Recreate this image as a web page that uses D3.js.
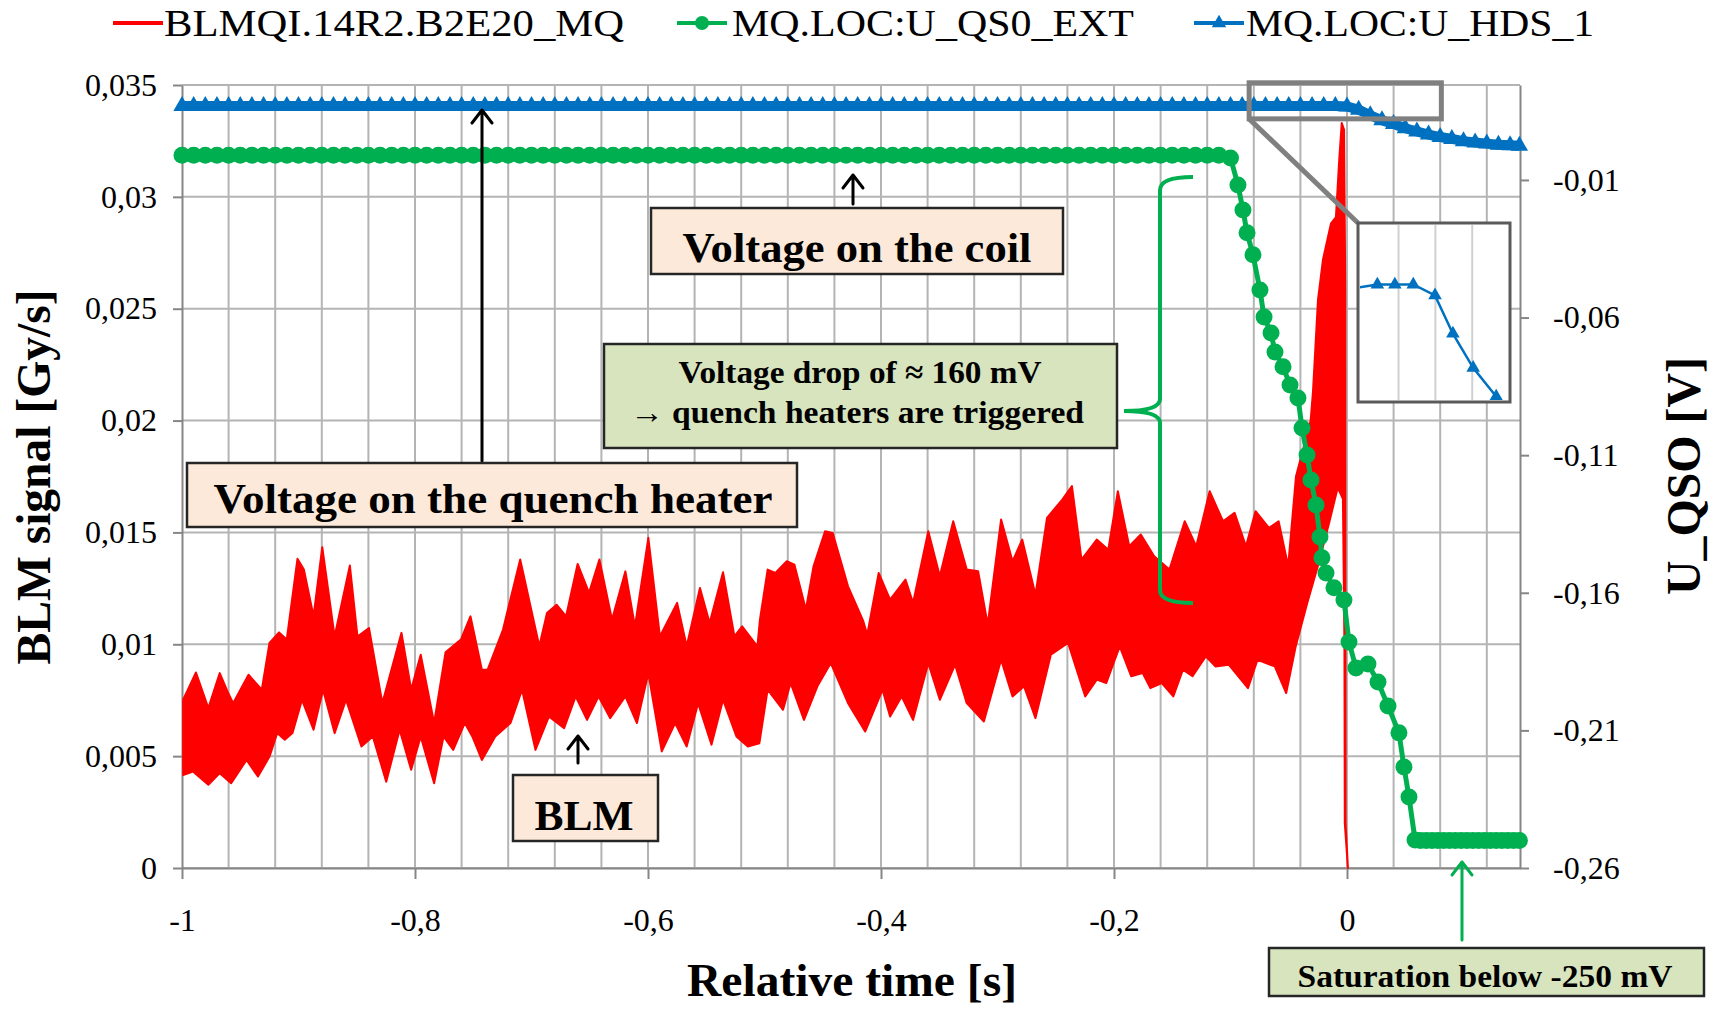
<!DOCTYPE html>
<html><head><meta charset="utf-8">
<script src="https://cdn.jsdelivr.net/npm/d3@7"></script>
<style>
body{margin:0;background:#fff;}
svg{display:block;font-family:"Liberation Serif","Times New Roman",serif;}
</style>
</head><body>
<svg id="chart" width="1719" height="1009"></svg>
<script>
// ---------------- DATA ----------------
const seriesNames = ["BLMQI.14R2.B2E20_MQ", "MQ.LOC:U_QS0_EXT", "MQ.LOC:U_HDS_1"];
const xTicks = [-1, -0.8, -0.6, -0.4, -0.2, 0];
const xTickLabels = ["-1", "-0,8", "-0,6", "-0,4", "-0,2", "0"];
const xGrid = [-0.96,-0.92,-0.88,-0.84,-0.8,-0.76,-0.72,-0.68,-0.64,-0.6,-0.56,-0.52,-0.48,-0.44,-0.4,-0.36,-0.32,-0.28,-0.24,-0.2,-0.16,-0.12,-0.08,-0.04,0,0.04,0.08,0.12];
const yLeftTicks = [0, 0.005, 0.01, 0.015, 0.02, 0.025, 0.03, 0.035];
const yLeftLabels = ["0", "0,005", "0,01", "0,015", "0,02", "0,025", "0,03", "0,035"];
const yRightTicks = [-0.26, -0.21, -0.16, -0.11, -0.06, -0.01];
const yRightLabels = ["-0,26", "-0,21", "-0,16", "-0,11", "-0,06", "-0,01"];

// BLM signal: upper and lower envelope of the dense noisy trace [time s, Gy/s]
const blmUpper = [[-0.999,0.00752],[-0.988,0.00874],[-0.9774,0.00715],[-0.9676,0.00871],[-0.961,0.00789],[-0.9561,0.00737],[-0.9429,0.00864],[-0.9315,0.00797],[-0.9249,0.01006],[-0.9167,0.01053],[-0.9101,0.01021],[-0.9009,0.01382],[-0.8954,0.01334],[-0.8871,0.01125],[-0.8796,0.01434],[-0.869,0.01035],[-0.8559,0.01352],[-0.8494,0.01035],[-0.8395,0.01073],[-0.828,0.00737],[-0.8116,0.01051],[-0.8033,0.00797],[-0.7951,0.00953],[-0.7836,0.00648],[-0.7738,0.00964],[-0.7606,0.01021],[-0.7524,0.01125],[-0.7426,0.00886],[-0.7377,0.00886],[-0.7245,0.01065],[-0.7097,0.01379],[-0.6933,0.00991],[-0.6867,0.0114],[-0.6785,0.01177],[-0.6703,0.01125],[-0.6604,0.01359],[-0.6506,0.0123],[-0.6417,0.01379],[-0.6309,0.0111],[-0.6194,0.01326],[-0.6112,0.0108],[-0.5997,0.01476],[-0.5898,0.01035],[-0.575,0.01185],[-0.5668,0.00991],[-0.5554,0.01252],[-0.5471,0.01095],[-0.5356,0.01322],[-0.5258,0.01035],[-0.5192,0.0108],[-0.5061,0.00991],[-0.5039,0.0111],[-0.4973,0.01334],[-0.4907,0.01319],[-0.4809,0.01371],[-0.4743,0.01356],[-0.4645,0.01155],[-0.4579,0.01349],[-0.448,0.01505],[-0.4415,0.01498],[-0.4283,0.01259],[-0.4152,0.01103],[-0.4118,0.01043],[-0.402,0.01319],[-0.3922,0.012],[-0.379,0.01289],[-0.3725,0.01185],[-0.3594,0.01505],[-0.3495,0.01304],[-0.338,0.0155],[-0.3264,0.01334],[-0.3166,0.01326],[-0.3084,0.01088],[-0.2969,0.01558],[-0.2871,0.01371],[-0.2788,0.01468],[-0.2674,0.01222],[-0.2575,0.01565],[-0.2444,0.01647],[-0.2361,0.01707],[-0.2279,0.01379],[-0.2148,0.01468],[-0.2049,0.01423],[-0.1967,0.01684],[-0.1869,0.01438],[-0.177,0.01491],[-0.1655,0.01393],[-0.1524,0.01334],[-0.1393,0.0155],[-0.1294,0.01438],[-0.1179,0.01684],[-0.1064,0.0155],[-0.0965,0.01588],[-0.0867,0.01438],[-0.0785,0.01595],[-0.067,0.0152],[-0.0587,0.0155],[-0.0505,0.01349],[-0.0438,0.0175],[-0.0312,0.02],[-0.0292,0.0213],[-0.0249,0.0254],[-0.0206,0.0272],[-0.0138,0.0288],[-0.0095,0.0291],[-0.0065,0.0318],[-0.0045,0.0333],[-0.0025,0.033],[-0.0015,0.026],[-0.0012,0.002],[0.0008,0]];
const blmLower = [[-0.999,0.00416],[-0.9906,0.00431],[-0.9774,0.00372],[-0.9676,0.00424],[-0.9578,0.00379],[-0.9446,0.00483],[-0.9348,0.00409],[-0.9249,0.00498],[-0.9183,0.00603],[-0.9118,0.00573],[-0.9052,0.00603],[-0.897,0.00752],[-0.8871,0.00618],[-0.8789,0.00797],[-0.869,0.00603],[-0.8592,0.00752],[-0.846,0.00543],[-0.8362,0.00588],[-0.8247,0.00386],[-0.8132,0.00618],[-0.8033,0.00439],[-0.7951,0.00588],[-0.7836,0.00379],[-0.7755,0.00588],[-0.7672,0.00528],[-0.7573,0.00648],[-0.7508,0.00588],[-0.7426,0.00483],[-0.7311,0.00588],[-0.718,0.00648],[-0.7081,0.00797],[-0.6966,0.00528],[-0.6851,0.00677],[-0.672,0.00625],[-0.6621,0.00767],[-0.6523,0.00662],[-0.6424,0.00767],[-0.6325,0.0067],[-0.6194,0.00767],[-0.6095,0.00648],[-0.5997,0.00871],[-0.5882,0.00521],[-0.5767,0.00648],[-0.5668,0.00543],[-0.557,0.00737],[-0.5455,0.00551],[-0.5356,0.00752],[-0.5241,0.00588],[-0.5143,0.00543],[-0.5044,0.00558],[-0.4973,0.00797],[-0.4841,0.00707],[-0.4776,0.00827],[-0.4661,0.00662],[-0.4546,0.00812],[-0.4431,0.00916],[-0.4283,0.00737],[-0.4136,0.0061],[-0.3987,0.00797],[-0.3922,0.00677],[-0.3823,0.00767],[-0.3725,0.00662],[-0.3594,0.00916],[-0.3495,0.00752],[-0.3364,0.00909],[-0.3264,0.00737],[-0.3117,0.00655],[-0.2969,0.00931],[-0.2871,0.00767],[-0.2772,0.00812],[-0.2674,0.0067],[-0.2542,0.00953],[-0.2394,0.01006],[-0.2247,0.00767],[-0.2148,0.00842],[-0.2066,0.00827],[-0.1951,0.00991],[-0.1852,0.00857],[-0.1754,0.00871],[-0.1688,0.00804],[-0.159,0.00827],[-0.1491,0.00767],[-0.1409,0.00886],[-0.1326,0.00857],[-0.1212,0.00946],[-0.113,0.00901],[-0.1015,0.00909],[-0.085,0.00804],[-0.0768,0.00931],[-0.062,0.00901],[-0.0522,0.00782],[-0.044,0.00991],[-0.0341,0.01185],[-0.025,0.0135],[-0.015,0.0155],[-0.008,0.017],[-0.0035,0.0165],[-0.0022,0.01],[-0.0019,0.002],[0.0008,0]];

// MQ.LOC:U_QS0_EXT (right axis, V)
const qs0Time = [
-1,-0.99,-0.98,-0.97,-0.96,-0.95,-0.94,-0.93,-0.92,-0.91,
-0.9,-0.89,-0.88,-0.87,-0.86,-0.85,-0.84,-0.83,-0.82,-0.81,
-0.8,-0.79,-0.78,-0.77,-0.76,-0.75,-0.74,-0.73,-0.72,-0.71,
-0.7,-0.69,-0.68,-0.67,-0.66,-0.65,-0.64,-0.63,-0.62,-0.61,
-0.6,-0.59,-0.58,-0.57,-0.56,-0.55,-0.54,-0.53,-0.52,-0.51,
-0.5,-0.49,-0.48,-0.47,-0.46,-0.45,-0.44,-0.43,-0.42,-0.41,
-0.4,-0.39,-0.38,-0.37,-0.36,-0.35,-0.34,-0.33,-0.32,-0.31,
-0.3,-0.29,-0.28,-0.27,-0.26,-0.25,-0.24,-0.23,-0.22,-0.21,
-0.2,-0.19,-0.18,-0.17,-0.16,-0.15,-0.14,-0.13,-0.12,-0.11,
-0.1,-0.0936,-0.0893,-0.0858,-0.0807,-0.0747,-0.0712,-0.0652,-0.0618,-0.0549,
-0.0489,-0.0421,-0.0386,-0.0343,-0.0309,-0.0266,-0.0232,-0.0215,-0.018,-0.0112,
-0.0026,0.0017,0.0077,0.018,0.0266,0.0352,0.0446,0.0489,0.0532,0.0584,
0.063,0.068,0.073,0.078,0.083,0.088,0.093,0.098,0.103,0.108,
0.113,0.118,0.123,0.128,0.133,0.138,0.143,0.148];
const qs0Value = [
-0.001,-0.001,-0.001,-0.001,-0.001,-0.001,-0.001,-0.001,-0.001,-0.001,
-0.001,-0.001,-0.001,-0.001,-0.001,-0.001,-0.001,-0.001,-0.001,-0.001,
-0.001,-0.001,-0.001,-0.001,-0.001,-0.001,-0.001,-0.001,-0.001,-0.001,
-0.001,-0.001,-0.001,-0.001,-0.001,-0.001,-0.001,-0.001,-0.001,-0.001,
-0.001,-0.001,-0.001,-0.001,-0.001,-0.001,-0.001,-0.001,-0.001,-0.001,
-0.001,-0.001,-0.001,-0.001,-0.001,-0.001,-0.001,-0.001,-0.001,-0.001,
-0.001,-0.001,-0.001,-0.001,-0.001,-0.001,-0.001,-0.001,-0.001,-0.001,
-0.001,-0.001,-0.001,-0.001,-0.001,-0.001,-0.001,-0.001,-0.001,-0.001,
-0.001,-0.001,-0.001,-0.001,-0.001,-0.001,-0.001,-0.001,-0.001,-0.001,
-0.002,-0.0118,-0.0209,-0.0292,-0.0372,-0.05,-0.0598,-0.0656,-0.0725,-0.0779,
-0.0845,-0.0892,-0.1001,-0.1099,-0.119,-0.1281,-0.1397,-0.1473,-0.1528,-0.1582,
-0.1626,-0.1779,-0.1873,-0.1859,-0.1924,-0.2011,-0.2109,-0.2233,-0.2342,-0.2498,
-0.25,-0.25,-0.25,-0.25,-0.25,-0.25,-0.25,-0.25,-0.25,-0.25,
-0.25,-0.25,-0.25,-0.25,-0.25,-0.25,-0.25,-0.25];

// MQ.LOC:U_HDS_1 (right axis)
const hdsTime = [
-1,-0.99,-0.98,-0.97,-0.96,-0.95,-0.94,-0.93,-0.92,-0.91,
-0.9,-0.89,-0.88,-0.87,-0.86,-0.85,-0.84,-0.83,-0.82,-0.81,
-0.8,-0.79,-0.78,-0.77,-0.76,-0.75,-0.74,-0.73,-0.72,-0.71,
-0.7,-0.69,-0.68,-0.67,-0.66,-0.65,-0.64,-0.63,-0.62,-0.61,
-0.6,-0.59,-0.58,-0.57,-0.56,-0.55,-0.54,-0.53,-0.52,-0.51,
-0.5,-0.49,-0.48,-0.47,-0.46,-0.45,-0.44,-0.43,-0.42,-0.41,
-0.4,-0.39,-0.38,-0.37,-0.36,-0.35,-0.34,-0.33,-0.32,-0.31,
-0.3,-0.29,-0.28,-0.27,-0.26,-0.25,-0.24,-0.23,-0.22,-0.21,
-0.2,-0.19,-0.18,-0.17,-0.16,-0.15,-0.14,-0.13,-0.12,-0.11,
-0.1,-0.09,-0.08,-0.07,-0.06,-0.05,-0.04,-0.03,-0.02,-0.01,
0,0.01,0.02,0.03,0.04,0.05,0.06,0.07,0.08,0.09,
0.1,0.11,0.12,0.13,0.14,0.148];
const hdsValue = [
0.0169,0.0169,0.0169,0.0169,0.0169,0.0169,0.0169,0.0169,0.0169,0.0169,
0.0169,0.0169,0.0169,0.0169,0.0169,0.0169,0.0169,0.0169,0.0169,0.0169,
0.0169,0.0169,0.0169,0.0169,0.0169,0.0169,0.0169,0.0169,0.0169,0.0169,
0.0169,0.0169,0.0169,0.0169,0.0169,0.0169,0.0169,0.0169,0.0169,0.0169,
0.0169,0.0169,0.0169,0.0169,0.0169,0.0169,0.0169,0.0169,0.0169,0.0169,
0.0169,0.0169,0.0169,0.0169,0.0169,0.0169,0.0169,0.0169,0.0169,0.0169,
0.0169,0.0169,0.0169,0.0169,0.0169,0.0169,0.0169,0.0169,0.0169,0.0169,
0.0169,0.0169,0.0169,0.0169,0.0169,0.0169,0.0169,0.0169,0.0169,0.0169,
0.0169,0.0169,0.0169,0.0169,0.0169,0.0169,0.0169,0.0169,0.0169,0.0169,
0.0169,0.0169,0.0169,0.0169,0.0169,0.0169,0.0169,0.0169,0.0169,0.0169,
0.0167,0.0155,0.0135,0.0117,0.0103,0.0088,0.0076,0.0065,0.0056,0.0049,
0.0041,0.0036,0.0032,0.0028,0.0026,0.0024];

// magnified view of U_HDS_1 around t = 0 (inset)
const zoomTime = [-0.084, 0.081];
const zoomValue = [0.0122, 0.0253];
const insetTime = [-0.09, -0.063, -0.044, -0.024, -0.0004, 0.019, 0.041, 0.066];
const insetValue = [0.0205, 0.0208, 0.0208, 0.0208, 0.02, 0.0172, 0.0147, 0.0126];
const insetGrid = [-0.04, 0, 0.04];

// ---------------- CHART ----------------
const svg = d3.select("#chart");
const plot = {left: 182, right: 1520, top: 85, bottom: 868};
const RED = "#ff0000", GREEN = "#00b050", BLUE = "#0070c0", GRID = "#b4b4b4", AXIS = "#868686";

const x = d3.scaleLinear().domain([-1, 0.1485]).range([plot.left, plot.right]);
const yL = d3.scaleLinear().domain([0, 0.035]).range([plot.bottom, plot.top]);
const yR = d3.scaleLinear().domain([-0.26, 0.0245]).range([plot.bottom, plot.top]);

// gridlines
const grid = svg.append("g");
grid.selectAll("line.v").data(xGrid).join("line")
  .attr("x1", d => x(d)).attr("x2", d => x(d))
  .attr("y1", plot.top).attr("y2", plot.bottom)
  .attr("stroke", GRID).attr("stroke-width", 2);
grid.selectAll("line.h").data(yLeftTicks).join("line")
  .attr("x1", plot.left).attr("x2", plot.right)
  .attr("y1", d => yL(d)).attr("y2", d => yL(d))
  .attr("stroke", GRID).attr("stroke-width", 2);

// axes
function styleAxis(g, fs) {
  g.selectAll("path.domain").attr("stroke", AXIS).attr("stroke-width", 2);
  g.selectAll(".tick line").attr("stroke", AXIS).attr("stroke-width", 2);
  g.selectAll(".tick text").attr("font-size", fs).attr("fill", "#000")
    .attr("font-family", "'Liberation Serif','Times New Roman',serif");
}
const axL = svg.append("g").attr("transform", `translate(${plot.left},0)`)
  .call(d3.axisLeft(yL).tickValues(yLeftTicks).tickFormat((d, i) => yLeftLabels[i])
    .tickSizeInner(9).tickSizeOuter(0).tickPadding(16));
styleAxis(axL, 32);
const axR = svg.append("g").attr("transform", `translate(${plot.right},0)`)
  .call(d3.axisRight(yR).tickValues(yRightTicks).tickFormat((d, i) => yRightLabels[i])
    .tickSizeInner(9).tickSizeOuter(0).tickPadding(24));
styleAxis(axR, 32);
const axB = svg.append("g").attr("transform", `translate(0,${plot.bottom})`)
  .call(d3.axisBottom(x).tickValues(xTicks).tickFormat((d, i) => xTickLabels[i])
    .tickSizeInner(11).tickSizeOuter(0).tickPadding(29));
styleAxis(axB, 32);

// BLM red trace (dense noise drawn as its envelope band)
const blmPoly = blmUpper.concat(blmLower.slice().reverse());
svg.append("path")
  .attr("d", d3.line().x(d => x(d[0])).y(d => yL(d[1]))(blmPoly) + "Z")
  .attr("fill", RED).attr("stroke", RED).attr("stroke-width", 2).attr("stroke-linejoin", "round");

// green U_QS0_EXT
const qs0 = qs0Time.map((t, i) => [t, qs0Value[i]]);
svg.append("path")
  .attr("d", d3.line().x(d => x(d[0])).y(d => yR(d[1]))(qs0))
  .attr("fill", "none").attr("stroke", GREEN).attr("stroke-width", 5);
svg.append("g").selectAll("circle").data(qs0).join("circle")
  .attr("cx", d => x(d[0])).attr("cy", d => yR(d[1])).attr("r", 8.5).attr("fill", GREEN);

// blue U_HDS_1
const hds = hdsTime.map((t, i) => [t, hdsValue[i]]);
svg.append("path")
  .attr("d", d3.line().x(d => x(d[0])).y(d => yR(d[1]))(hds))
  .attr("fill", "none").attr("stroke", BLUE).attr("stroke-width", 10);
const tri = d3.symbol(d3.symbolTriangle).size(130);
svg.append("g").selectAll("path").data(hds).join("path")
  .attr("d", tri).attr("transform", d => `translate(${x(d[0])},${yR(d[1])})`).attr("fill", BLUE);

// zoom box + connector + inset
const zb = {x0: x(zoomTime[0]), x1: x(zoomTime[1]), y0: yR(zoomValue[1]), y1: yR(zoomValue[0])};
const inset = {x0: 1358, x1: 1510, y0: 223, y1: 402};
svg.append("rect").attr("x", zb.x0).attr("y", zb.y0).attr("width", zb.x1 - zb.x0).attr("height", zb.y1 - zb.y0)
  .attr("fill", "none").attr("stroke", "#808080").attr("stroke-width", 5);
svg.append("line").attr("x1", zb.x0).attr("y1", zb.y1).attr("x2", inset.x0).attr("y2", inset.y0)
  .attr("stroke", "#808080").attr("stroke-width", 5);
svg.append("rect").attr("x", inset.x0).attr("y", inset.y0).attr("width", inset.x1 - inset.x0).attr("height", inset.y1 - inset.y0)
  .attr("fill", "#fff").attr("stroke", "#5a5a5a").attr("stroke-width", 3);
const ix = d3.scaleLinear().domain(zoomTime).range([inset.x0, inset.x1]);
const iy = d3.scaleLinear().domain(zoomValue).range([inset.y1, inset.y0]);
svg.append("defs").append("clipPath").attr("id", "insetClip").append("rect")
  .attr("x", inset.x0 + 2).attr("y", inset.y0 + 2).attr("width", inset.x1 - inset.x0 - 4).attr("height", inset.y1 - inset.y0 - 4);
const ig = svg.append("g").attr("clip-path", "url(#insetClip)");
ig.selectAll("line").data(insetGrid).join("line")
  .attr("x1", d => ix(d)).attr("x2", d => ix(d)).attr("y1", inset.y0).attr("y2", inset.y1)
  .attr("stroke", "#d0d0d0").attr("stroke-width", 2);
const insetPts = insetTime.map((t, i) => [t, insetValue[i]]);
ig.append("path").attr("d", d3.line().x(d => ix(d[0])).y(d => iy(d[1]))(insetPts))
  .attr("fill", "none").attr("stroke", BLUE).attr("stroke-width", 2.5);
ig.selectAll("path.m").data(insetPts.slice(1)).join("path").attr("class", "m")
  .attr("d", d3.symbol(d3.symbolTriangle).size(80))
  .attr("transform", d => `translate(${ix(d[0])},${iy(d[1])})`).attr("fill", BLUE);

// ---------------- ANNOTATIONS ----------------
function box(x0, y0, x1, y1, fill) {
  svg.append("rect").attr("x", x0).attr("y", y0).attr("width", x1 - x0).attr("height", y1 - y0)
    .attr("fill", fill).attr("stroke", "#262626").attr("stroke-width", 2.5);
}
function label(txt, cx, by, fs, len) {
  svg.append("text").attr("x", cx).attr("y", by).attr("text-anchor", "middle")
    .attr("font-size", fs).attr("font-weight", "bold").attr("fill", "#000")
    .attr("textLength", len).attr("lengthAdjust", "spacingAndGlyphs").text(txt);
}
function arrow(ax, yTail, yTip, color, w) {
  svg.append("path").attr("d", `M${ax},${yTail}L${ax},${yTip}M${ax - 10},${yTip + 13}L${ax},${yTip}L${ax + 10},${yTip + 13}`)
    .attr("fill", "none").attr("stroke", color).attr("stroke-width", w).attr("stroke-linecap", "round").attr("stroke-linejoin", "round");
}
const PEACH = "#fde9d9", OLIVE = "#d7e4bd";

arrow(482, 461, 110, "#000", 3);
box(187, 463, 797, 527, PEACH);
label("Voltage on the quench heater", 493, 513, 42, 559);

arrow(853, 204, 175, "#000", 3);
box(651, 208, 1063, 274, PEACH);
label("Voltage on the coil", 857, 262, 42, 349);

box(604, 344, 1117, 448, OLIVE);
label("Voltage drop of \u2248 160 mV", 860, 383, 32, 363);
label("\u2192 quench heaters are triggered", 857, 423, 32, 454);

arrow(578, 763, 736, "#000", 3);
box(513, 775, 658, 841, PEACH);
label("BLM", 584, 830, 43, 99);

arrow(1462, 940, 862, GREEN, 3);
box(1269, 948, 1704, 996, OLIVE);
label("Saturation below -250 mV", 1485, 987, 32, 375);

// green brace
svg.append("path")
  .attr("d", "M1193,177 Q1160,177 1160,190 L1160,399 Q1160,411 1124,411 Q1160,411 1160,423 L1160,590 Q1160,603 1193,603")
  .attr("fill", "none").attr("stroke", GREEN).attr("stroke-width", 4);

// axis titles
svg.append("text").attr("transform", "translate(50,477) rotate(-90)").attr("text-anchor", "middle")
  .attr("font-size", 48).attr("font-weight", "bold").attr("textLength", 375).attr("lengthAdjust", "spacingAndGlyphs")
  .text("BLM signal [Gy/s]");
svg.append("text").attr("transform", "translate(1700,476) rotate(-90)").attr("text-anchor", "middle")
  .attr("font-size", 48).attr("font-weight", "bold").attr("textLength", 238).attr("lengthAdjust", "spacingAndGlyphs")
  .text("U_QSO [V]");
svg.append("text").attr("x", 852).attr("y", 996).attr("text-anchor", "middle")
  .attr("font-size", 46).attr("font-weight", "bold").attr("textLength", 330).attr("lengthAdjust", "spacingAndGlyphs")
  .text("Relative time [s]");

// legend
const leg = svg.append("g");
const legItems = [
  {name: seriesNames[0], color: RED, lx: 113, tx: 164, len: 460, marker: null},
  {name: seriesNames[1], color: GREEN, lx: 677, tx: 732, len: 402, marker: "circle"},
  {name: seriesNames[2], color: BLUE, lx: 1194, tx: 1246, len: 348, marker: "tri"}
];
legItems.forEach(it => {
  leg.append("line").attr("x1", it.lx).attr("x2", it.lx + 50).attr("y1", 23).attr("y2", 23)
    .attr("stroke", it.color).attr("stroke-width", 4);
  if (it.marker === "circle") leg.append("circle").attr("cx", it.lx + 25).attr("cy", 23).attr("r", 7).attr("fill", it.color);
  if (it.marker === "tri") leg.append("path").attr("d", d3.symbol(d3.symbolTriangle).size(90)).attr("transform", `translate(${it.lx + 25},23)`).attr("fill", it.color);
  leg.append("text").attr("x", it.tx).attr("y", 36).attr("font-size", 38).attr("fill", "#000")
    .attr("textLength", it.len).attr("lengthAdjust", "spacingAndGlyphs").text(it.name);
});
</script>
</body></html>
